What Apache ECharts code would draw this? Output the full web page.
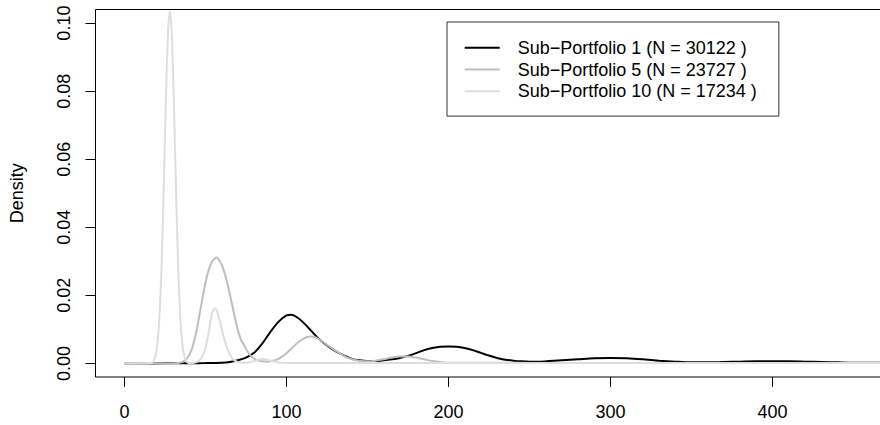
<!DOCTYPE html>
<html>
<head>
<meta charset="utf-8">
<script src="https://cdn.jsdelivr.net/npm/echarts@6/dist/echarts.min.js"></script>
<style>html,body{margin:0;padding:0;background:#fff}#c{width:880px;height:425px}</style>
</head>
<body>
<div id="c"></div>
<script>
// ---- data ----
const seriesNames = ['Sub\u2212Portfolio 1 (N = 30122 )', 'Sub\u2212Portfolio 5 (N = 23727 )', 'Sub\u2212Portfolio 10 (N = 17234 )'];
const xTicks = [0, 100, 200, 300, 400];
const yTicks = [0, 0.02, 0.04, 0.06, 0.08, 0.10];

const sp1X = [0, 20, 30, 40, 50, 60, 65, 70, 75, 80, 85, 90, 95, 100, 103, 106, 110, 115, 120, 125, 130, 135, 140, 145, 150, 155, 160, 165, 170, 175, 180, 185, 190, 195, 200, 205, 210, 215, 220, 225, 230, 235, 240, 245, 250, 255, 260, 270, 280, 290, 300, 310, 320, 330, 340, 350, 360, 370, 380, 390, 400, 410, 420, 430, 440, 450, 460, 470, 480];
const sp1Y = [0, 0, 0.00003, 0.00006, 0.0001, 0.0002, 0.0004, 0.0009, 0.0017, 0.0031, 0.0058, 0.0092, 0.0122, 0.0141, 0.0143, 0.0137, 0.0122, 0.0097, 0.0072, 0.0053, 0.0037, 0.0024, 0.0014, 0.0009, 0.0007, 0.0007, 0.0009, 0.0012, 0.0016, 0.0022, 0.0030, 0.0039, 0.0045, 0.0049, 0.0050, 0.0049, 0.0045, 0.0039, 0.0031, 0.0023, 0.0016, 0.0011, 0.0008, 0.0006, 0.0005, 0.0005, 0.0006, 0.0009, 0.0012, 0.0015, 0.0016, 0.0015, 0.0012, 0.0008, 0.0005, 0.0003, 0.0003, 0.0004, 0.0005, 0.0006, 0.0006, 0.0006, 0.0005, 0.0004, 0.0003, 0.0002, 0.0002, 0.0002, 0.0001];

const sp5X = [0, 30, 34, 36, 38, 40, 42, 44, 46, 48, 50, 52, 54, 56, 57, 58, 60, 62, 64, 66, 68, 70, 72, 74, 76, 78, 80, 82, 85, 88, 91, 94, 96, 100, 104, 108, 112, 115, 118, 122, 126, 130, 134, 138, 142, 146, 150, 155, 160, 165, 170, 175, 180, 185, 190, 195, 200, 220, 240, 260, 300, 350, 400, 450, 480];
const sp5Y = [0, 0, 0.0002, 0.0005, 0.0012, 0.0025, 0.0048, 0.0085, 0.0135, 0.0188, 0.0237, 0.0275, 0.0299, 0.0310, 0.0311, 0.0306, 0.0290, 0.0262, 0.0225, 0.0182, 0.0138, 0.0097, 0.0068, 0.0052, 0.0034, 0.0022, 0.0014, 0.0009, 0.0006, 0.0005, 0.0007, 0.0011, 0.0016, 0.0030, 0.0048, 0.0065, 0.0076, 0.0079, 0.0076, 0.0065, 0.0051, 0.0038, 0.0026, 0.0016, 0.0010, 0.0007, 0.0006, 0.0008, 0.0012, 0.0017, 0.0020, 0.0020, 0.0017, 0.0012, 0.0007, 0.0004, 0.0002, 0.0002, 0.0002, 0.0001, 0.0001, 0.0001, 0.0001, 0.0001, 0.0001];

const sp10X = [0, 16, 17, 18, 19, 20, 21, 22, 23, 24, 25, 26, 27, 28, 29, 30, 31, 32, 33, 34, 35, 36, 37, 38, 39, 40, 42, 44, 46, 48, 50, 52, 53, 54, 55, 56, 57, 58, 59, 60, 61, 62, 63, 64, 66, 68, 70, 72, 75, 78, 81, 84, 86, 88, 91, 94, 97, 100, 150, 200, 300, 400, 480];
const sp10Y = [0, 0.0001, 0.0003, 0.0008, 0.0020, 0.0046, 0.0095, 0.0179, 0.0306, 0.0474, 0.0667, 0.0852, 0.0986, 0.1035, 0.0986, 0.0852, 0.0667, 0.0474, 0.0306, 0.0179, 0.0095, 0.0046, 0.0020, 0.0008, 0.0003, 0.0001, 0.0001, 0.0003, 0.0008, 0.0020, 0.0045, 0.0092, 0.0122, 0.0145, 0.0158, 0.0162, 0.0156, 0.0138, 0.0122, 0.0102, 0.0083, 0.0065, 0.0049, 0.0036, 0.0018, 0.0008, 0.0004, 0.0002, 0.0002, 0.0004, 0.0008, 0.0012, 0.0013, 0.0011, 0.0007, 0.0004, 0.0002, 0.0001, 0.0001, 0.0001, 0.0001, 0.0001, 0.0001];

const colors = ['#000000', '#bebebe', '#dedede'];

function pairs(xs, ys) { return xs.map((x, i) => [x, ys[i]]); }

const FONT = 'Liberation Sans, Arial, Helvetica, sans-serif';
const chart = echarts.init(document.getElementById('c'), null, { renderer: 'svg' });
chart.setOption({
  animation: false,
  backgroundColor: '#ffffff',
  grid: {
    left: 95.5, top: 9.5, width: 785.5, height: 367.5,
    show: true, borderColor: '#000', borderWidth: 1, backgroundColor: 'transparent',
    containLabel: false, outerBoundsMode: 'none'
  },
  legend: {
    orient: 'vertical', left: 447, top: 22,
    data: seriesNames,
    icon: 'rect', itemWidth: 35, itemHeight: 2, itemGap: 0,
    padding: [15, 22, 14, 17.7],
    borderColor: '#333', borderWidth: 1, borderRadius: 0,
    selectedMode: false,
    textStyle: { fontFamily: FONT, fontSize: 18, color: '#000', lineHeight: 21.7, padding: [0, 0, 0, 13] }
  },
  xAxis: {
    type: 'value', min: -17.9, max: 467.0,
    splitLine: { show: false },
    axisLine: { show: false, onZero: false },
    axisTick: { show: true, inside: false, length: 10, lineStyle: { color: '#000', width: 1 }, customValues: xTicks },
    axisLabel: { fontFamily: FONT, fontSize: 18, color: '#000', margin: 26, customValues: xTicks }
  },
  yAxis: {
    type: 'value', min: -0.004, max: 0.104,
    name: 'Density', nameLocation: 'middle', nameRotate: 90, nameGap: 70,
    nameTextStyle: { fontFamily: FONT, fontSize: 18, color: '#000' },
    splitLine: { show: false },
    axisLine: { show: false, onZero: false },
    axisTick: { show: true, inside: false, length: 10, lineStyle: { color: '#000', width: 1 }, customValues: yTicks },
    axisLabel: { fontFamily: FONT, fontSize: 18, color: '#000', rotate: 90, margin: 23, customValues: yTicks,
      formatter: v => v.toFixed(2) }
  },
  series: [
    { name: seriesNames[0], type: 'line', data: pairs(sp1X, sp1Y), smooth: 0.3, showSymbol: false, clip: true,
      lineStyle: { color: colors[0], width: 2 }, itemStyle: { color: colors[0] } },
    { name: seriesNames[1], type: 'line', data: pairs(sp5X, sp5Y), smooth: 0.3, showSymbol: false, clip: true,
      lineStyle: { color: colors[1], width: 2 }, itemStyle: { color: colors[1] } },
    { name: seriesNames[2], type: 'line', data: pairs(sp10X, sp10Y), smooth: 0.3, showSymbol: false, clip: true,
      lineStyle: { color: colors[2], width: 2 }, itemStyle: { color: colors[2] } }
  ]
});
</script>
</body>
</html>
